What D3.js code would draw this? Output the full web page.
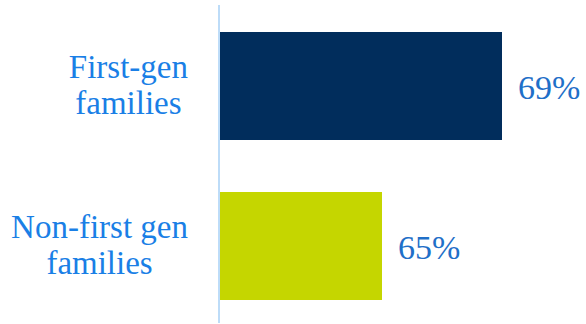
<!DOCTYPE html>
<html>
<head>
<meta charset="utf-8">
<script src="https://cdn.jsdelivr.net/npm/d3@7"></script>
<style>
  html, body { margin: 0; padding: 0; background: #ffffff; }
  svg { display: block; }
</style>
</head>
<body>
<svg id="chart" width="586" height="324"></svg>
<script>
// Share of families, by generation status
const categories = ["First-gen families", "Non-first gen families"];
const labelLines = [["First-gen", "families"], ["Non-first gen", "families"]];
const values = [69, 65];
const barColors = ["#012D5C", "#C5D600"];

const svg = d3.select("#chart");
const width = 586, height = 324;
const axisX = 219;

// Value axis starts just below the smallest value, as in the source chart
const x = d3.scaleLinear().domain([59.6, 69]).range([220, 502]);
const y = d3.scaleBand().domain(categories).range([6, 326]).paddingInner(0.325).paddingOuter(0.1625);

// bars
svg.selectAll("rect.bar")
  .data(categories)
  .join("rect")
  .attr("class", "bar")
  .attr("x", x(x.domain()[0]))
  .attr("y", d => y(d))
  .attr("width", (d, i) => x(values[i]) - x(x.domain()[0]))
  .attr("height", y.bandwidth())
  .attr("fill", (d, i) => barColors[i]);

// category axis line
svg.append("line")
  .attr("x1", axisX).attr("x2", axisX)
  .attr("y1", 5).attr("y2", 323)
  .attr("stroke", "#BDDCF8")
  .attr("stroke-width", 2);

// value labels
svg.selectAll("text.value")
  .data(categories)
  .join("text")
  .attr("class", "value")
  .attr("x", (d, i) => x(values[i]) + 16)
  .attr("y", d => y(d) + y.bandwidth() / 2 + 13)
  .attr("font-family", "'Liberation Serif', serif")
  .attr("font-size", 34)
  .attr("fill", "#1F6FC8")
  .text((d, i) => values[i] + "%");

// category labels: block right-aligned, each line centred within the block
const labelRight = 188;
categories.forEach((c, i) => {
  const g = svg.append("g");
  const cy = y(c) + y.bandwidth() / 2;
  const texts = labelLines[i].map((line, j) =>
    g.append("text")
      .attr("y", cy - 8 + j * 36)
      .attr("font-family", "'Liberation Serif', serif")
      .attr("font-size", 33)
      .attr("fill", "#1A7FE6")
      .attr("text-anchor", "middle")
      .text(line)
  );
  const maxW = d3.max(texts, t => t.node().getComputedTextLength());
  texts.forEach(t => t.attr("x", labelRight - maxW / 2));
});
</script>
</body>
</html>
